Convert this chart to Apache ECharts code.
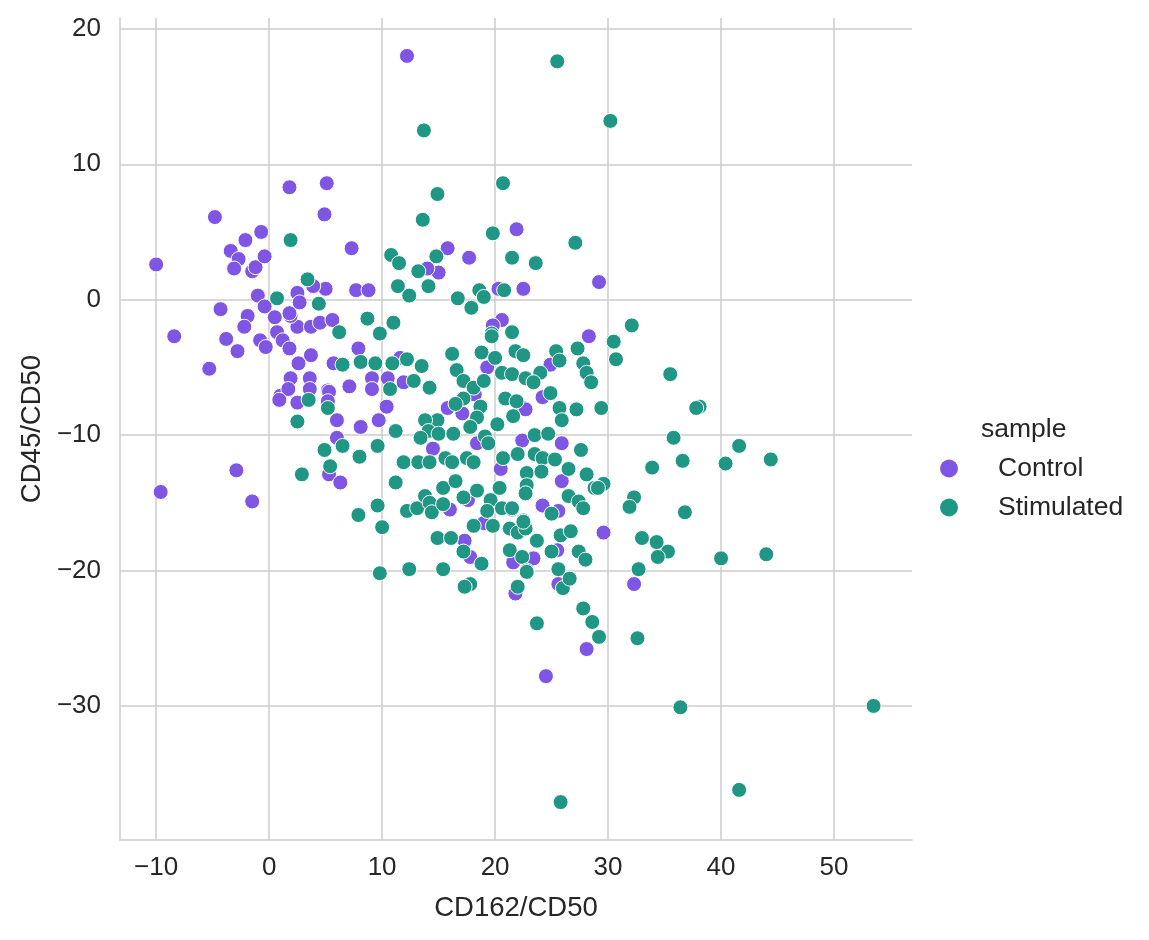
<!DOCTYPE html>
<html lang="en">
<head>
    <meta charset="UTF-8">
    <title>CD162/CD50 vs CD45/CD50</title>
    <script src="https://cdn.jsdelivr.net/npm/echarts@6/dist/echarts.min.js"></script>
    <style>
        html, body { margin: 0; padding: 0; background: #fff; }
        #main { width: 1149px; height: 940px; }
    </style>
</head>
<body>
<div id="main"></div>
<script type="text/javascript">
    // values: [CD162/CD50, CD45/CD50]
    var controlPoints = [
        [12.2,18.0],[-10.0,2.6],[-9.6,-14.2],[-8.4,-2.7],[-4.8,6.1],[-5.3,-5.1],[-4.3,-0.7],
        [-2.9,-12.6],[-1.5,-14.9],[-3.4,3.6],[-2.7,3.0],[-3.1,2.3],[-2.1,4.4],[-1.5,2.1],
        [-1.2,2.4],[-0.7,5.0],[-0.4,3.2],[1.8,8.3],[5.1,8.6],[4.9,6.3],[7.3,3.8],[7.7,0.7],
        [8.8,0.7],[5.0,0.8],[3.9,1.0],[15.8,3.8],[17.7,3.1],[21.9,5.2],[22.5,0.8],[15.0,2.0],
        [14.0,2.3],[20.3,0.8],[20.6,-1.5],[19.8,-1.9],[29.2,1.3],[28.3,-2.7],[-1.0,0.3],
        [-0.4,-0.5],[2.5,0.5],[2.7,-0.2],[-3.8,-2.9],[-2.8,-3.8],[-1.9,-1.2],[-2.2,-2.0],
        [-0.8,-3.0],[-0.3,-3.5],[0.5,-1.3],[0.7,-2.4],[1.2,-3.0],[1.8,-3.6],[2.5,-2.0],
        [1.9,-1.2],[3.7,-2.0],[3.7,-4.1],[1.8,-1.0],[4.5,-1.7],[5.6,-1.5],[2.6,-4.7],
        [7.9,-3.6],[5.7,-4.7],[1.9,-5.8],[3.6,-5.8],[3.6,-6.6],[5.2,-6.7],[7.1,-6.4],
        [9.1,-5.8],[9.1,-6.6],[10.5,-5.8],[1.0,-7.1],[1.7,-6.6],[0.9,-7.4],[2.5,-7.6],
        [5.3,-6.8],[5.2,-7.5],[6.0,-8.9],[6.0,-10.2],[5.3,-12.9],[6.3,-13.5],[11.6,-4.3],
        [11.9,-6.1],[10.4,-7.9],[8.1,-9.4],[9.7,-8.9],[15.8,-8.0],[17.1,-8.4],[18.4,-10.6],
        [22.4,-10.4],[22.5,-8.0],[17.6,-14.8],[17.3,-17.8],[17.8,-19.0],[21.6,-19.4],
        [21.8,-21.7],[24.9,-4.8],[24.2,-7.2],[22.7,-8.1],[25.9,-10.6],[25.9,-13.4],
        [29.6,-17.2],[32.3,-21.0],[28.1,-25.8],[25.6,-21.0],[23.4,-19.1],[25.5,-18.5],
        [24.2,-15.2],[25.6,-15.6],[24.5,-27.8],[19.3,-5.0],[18.2,-7.0],[20.5,-12.5],
        [19.0,-16.5],[21.5,-15.5],[14.5,-11.0],[16.0,-15.5]
    ];
    var stimulatedPoints = [
        [1.9,4.4],[3.4,1.5],[0.7,0.1],[4.4,-0.3],[13.7,12.5],[14.9,7.8],[13.6,5.9],[20.7,8.6],
        [19.8,4.9],[21.5,3.1],[23.6,2.7],[10.8,3.3],[11.5,2.7],[13.2,2.1],[14.8,3.2],[14.1,1.0],
        [11.4,1.0],[12.4,0.3],[16.7,0.1],[17.9,-0.6],[18.6,0.7],[19.0,0.2],[20.8,0.7],[8.7,-1.4],
        [9.8,-2.5],[11.0,-1.7],[6.2,-2.4],[19.7,-2.5],[21.5,-2.4],[25.5,17.6],[30.2,13.2],
        [27.1,4.2],[32.1,-1.9],[30.5,-3.1],[30.7,-4.4],[6.5,-4.8],[8.1,-4.6],[9.4,-4.7],
        [10.9,-4.7],[10.7,-6.6],[3.5,-7.4],[2.5,-9.0],[5.2,-8.0],[4.9,-11.1],[5.4,-12.3],
        [2.9,-12.9],[12.2,-4.4],[13.5,-4.9],[12.8,-6.0],[14.2,-6.5],[11.2,-9.7],[6.5,-10.8],
        [9.6,-10.8],[8.0,-11.6],[16.2,-4.0],[18.8,-3.9],[19.7,-2.7],[21.8,-3.8],[22.5,-4.1],
        [20.0,-4.3],[16.6,-5.2],[17.2,-6.0],[18.1,-6.5],[19.0,-6.0],[20.6,-5.4],[21.5,-5.5],
        [22.7,-5.8],[20.9,-7.3],[21.9,-7.5],[21.6,-8.6],[17.2,-7.3],[16.5,-7.7],[18.7,-7.9],
        [18.4,-8.7],[20.2,-9.2],[17.8,-9.4],[14.9,-8.9],[13.8,-8.9],[14.1,-9.7],[15.0,-9.9],
        [13.4,-10.2],[16.3,-9.9],[19.1,-10.1],[19.4,-10.6],[22.0,-11.4],[20.7,-11.7],
        [15.6,-11.7],[17.5,-11.7],[18.1,-12.0],[11.9,-12.0],[13.2,-12.0],[14.2,-12.0],
        [16.2,-12.0],[11.2,-13.5],[7.9,-15.9],[9.6,-15.2],[10.0,-16.8],[12.2,-15.6],
        [13.1,-15.4],[13.8,-14.5],[14.2,-15.0],[14.4,-15.7],[15.4,-15.1],[15.4,-13.9],
        [16.5,-13.4],[17.2,-14.6],[18.4,-14.1],[19.6,-14.8],[20.4,-13.9],[20.6,-15.4],
        [19.3,-15.6],[21.5,-15.4],[18.1,-16.7],[19.8,-16.7],[21.3,-16.9],[22.0,-17.2],
        [22.5,-16.3],[14.9,-17.6],[16.1,-17.6],[17.2,-18.6],[18.8,-19.5],[21.3,-18.5],
        [22.4,-19.0],[9.8,-20.2],[12.4,-19.9],[15.4,-19.9],[17.8,-21.0],[17.3,-21.2],
        [22.0,-21.2],[22.8,-20.0],[35.5,-5.5],[38.1,-7.9],[37.8,-8.0],[35.8,-10.2],
        [36.6,-11.9],[33.9,-12.4],[40.4,-12.1],[41.6,-10.8],[44.4,-11.8],[25.4,-3.8],
        [25.7,-4.5],[27.3,-3.6],[27.8,-4.7],[28.1,-5.4],[28.5,-6.1],[24.0,-5.4],[23.4,-6.1],
        [24.9,-6.9],[25.7,-8.0],[27.2,-8.1],[29.4,-8.0],[25.9,-8.9],[23.5,-10.0],[24.7,-9.9],
        [27.6,-11.1],[23.5,-11.4],[24.2,-11.7],[25.3,-11.8],[22.8,-12.8],[24.1,-12.7],
        [26.5,-12.5],[28.1,-12.9],[29.6,-13.6],[28.8,-13.9],[22.8,-13.7],[36.8,-15.7],
        [32.3,-14.6],[31.9,-15.3],[33.0,-17.6],[34.3,-17.9],[35.3,-18.6],[34.4,-19.0],
        [40.0,-19.1],[44.0,-18.8],[32.7,-19.9],[32.6,-25.0],[27.8,-22.8],[28.6,-23.8],
        [29.2,-24.9],[23.7,-23.9],[25.6,-19.9],[26.0,-21.3],[26.6,-20.6],[22.8,-20.1],
        [25.0,-18.6],[27.4,-18.6],[28.0,-19.2],[23.7,-17.8],[25.8,-17.4],[26.7,-17.1],
        [22.7,-16.9],[22.5,-16.4],[25.0,-15.8],[26.5,-14.5],[27.4,-14.9],[27.8,-15.4],
        [29.1,-13.9],[22.7,-14.3],[53.5,-30.0],[36.4,-30.1],[41.6,-36.2],[25.8,-37.1]
    ];
    var xTicks = [-10, 0, 10, 20, 30, 40, 50];
    var yTicks = [-30, -20, -10, 0, 10, 20];
    var seriesNames = ['Control', 'Stimulated'];
    var colors = ['#7f55e3', '#209784'];

    var font = '"Liberation Sans", Arial, "DejaVu Sans", sans-serif';
    var textColor = '#262626';
    var gridColor = '#cccccc';

    function minus(v) {
        return String(v).replace('-', '\u2212');
    }

    var myChart = echarts.init(document.getElementById('main'));
    var option = {
        animation: false,
        color: colors,
        title: {
            text: 'sample',
            left: 976,
            top: 411,
            textStyle: { fontFamily: font, fontSize: 26.5, fontWeight: 'normal', color: textColor }
        },
        legend: {
            orient: 'vertical',
            left: 935,
            top: 450,
            itemWidth: 18,
            itemHeight: 18,
            itemGap: 12,
            icon: 'circle',
            itemStyle: { borderWidth: 0 },
            data: seriesNames,
            textStyle: { fontFamily: font, fontSize: 26.5, color: textColor, padding: [0, 0, 0, 35] }
        },
        grid: { left: 120, right: 237, top: 18, bottom: 100 },
        xAxis: {
            type: 'value',
            min: -13.2,
            max: 56.9,
            name: 'CD162/CD50',
            nameLocation: 'middle',
            nameGap: 54,
            nameTextStyle: { fontFamily: font, fontSize: 27.5, color: textColor },
            axisLine: { show: true, onZero: false, lineStyle: { color: gridColor, width: 1.5 } },
            axisTick: { show: false, customValues: xTicks },
            axisLabel: {
                customValues: xTicks,
                fontFamily: font, fontSize: 26, color: textColor, margin: 15,
                formatter: minus
            },
            splitLine: { show: true, lineStyle: { color: gridColor, width: 1.5 } }
        },
        yAxis: {
            type: 'value',
            min: -39.9,
            max: 20.8,
            name: 'CD45/CD50',
            nameLocation: 'middle',
            nameGap: 74,
            nameTextStyle: { fontFamily: font, fontSize: 27.5, color: textColor },
            axisLine: { show: true, onZero: false, lineStyle: { color: gridColor, width: 1.5 } },
            axisTick: { show: false, customValues: yTicks },
            axisLabel: {
                customValues: yTicks,
                fontFamily: font, fontSize: 26, color: textColor, margin: 19,
                formatter: minus
            },
            splitLine: { show: true, lineStyle: { color: gridColor, width: 1.5 } }
        },
        series: [
            {
                name: seriesNames[0],
                type: 'scatter',
                symbolSize: 15,
                data: controlPoints,
                itemStyle: { color: colors[0], borderColor: '#ffffff', borderWidth: 1, opacity: 1 }
            },
            {
                name: seriesNames[1],
                type: 'scatter',
                symbolSize: 15,
                data: stimulatedPoints,
                itemStyle: { color: colors[1], borderColor: '#ffffff', borderWidth: 1, opacity: 1 }
            }
        ]
    };
    myChart.setOption(option);
</script>
</body>
</html>
